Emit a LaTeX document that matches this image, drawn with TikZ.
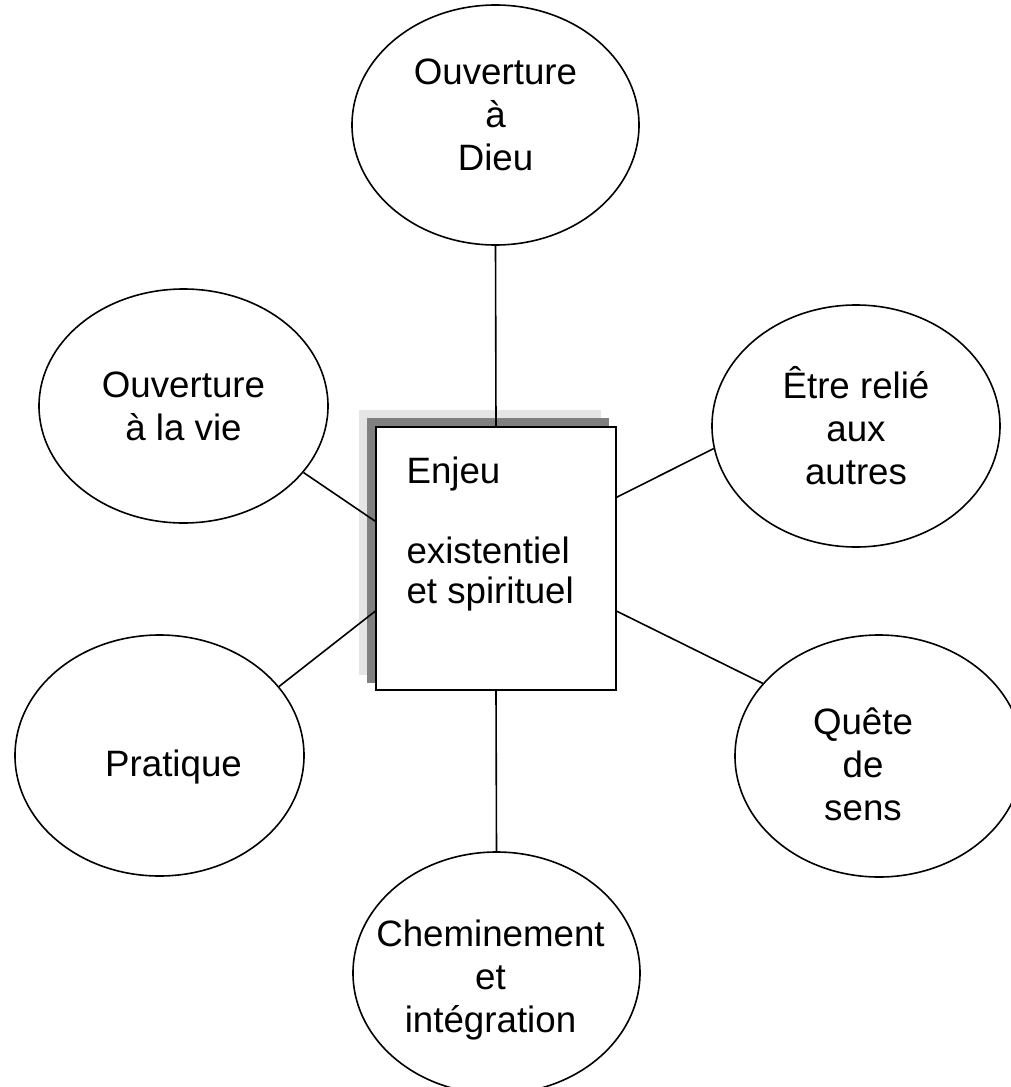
\documentclass[tikz,border=0pt]{standalone}
\usepackage{fontspec}
\setmainfont{Liberation Sans}
\usetikzlibrary{shapes.geometric,backgrounds}
\tikzset{
    theme-ellipse/.style = {draw=black, ellipse, line width=1.6pt, inner sep=0pt},
    theme-text/.style = {align=center, font=\fontsize{36.7}{43}\selectfont},
    center-box/.style = {draw=black, fill=white, rectangle, line width=1.6pt, minimum width=240pt, minimum height=263pt, inner sep=0pt},
    link/.style = {line width=1.6pt},
}

\begin{document}
\begin{tikzpicture}[x=1pt,y=-1pt]
\useasboundingbox (0,0) rectangle (1011,1087);

% central box with its two shadows
\node [center-box] (enjeu) at (496,558.5) {};
\node [theme-text, align=left, anchor=base west, font=\fontsize{36.7}{40}\selectfont] (enjeu-text) at (403,603) {Enjeu\\[40pt]existentiel\\et spirituel};
\begin{scope}[on background layer]
\fill [black!10] ([shift={(-16pt,16pt)}]enjeu.south west) rectangle ([shift={(-16pt,16pt)}]enjeu.north east);
\fill [black!50] ([shift={(-8pt,8pt)}]enjeu.south west) rectangle ([shift={(-8pt,8pt)}]enjeu.north east);
\end{scope}

% themes around
\node [theme-ellipse, minimum width=287pt, minimum height=240pt, label={[theme-text, yshift=10pt]center:Ouverture\\à\\Dieu}] (dieu) at (495.5,125) {};
\node [theme-ellipse, minimum width=289pt, minimum height=234pt, label={[theme-text]center:Ouverture\\à la vie}] (vie) at (183.5,406) {};
\node [theme-ellipse, minimum width=288pt, minimum height=242pt, label={[theme-text]center:Être relié\\aux\\autres}] (autres) at (856,426) {};
\node [theme-ellipse, minimum width=289pt, minimum height=241pt, label={[theme-text, xshift=14pt, yshift=-12pt]center:Pratique}] (pratique) at (159.5,755.5) {};
\node [theme-ellipse, minimum width=288pt, minimum height=242pt, label={[theme-text, xshift=-16pt, yshift=-8pt]center:Quête\\de\\sens}] (sens) at (879,756) {};
\node [theme-ellipse, minimum width=287pt, minimum height=242pt, label={[theme-text, xshift=-6pt, yshift=-7pt]center:Cheminement\\et\\intégration}] (chemin) at (496.5,973) {};

% links
\draw [link] (dieu.south) -- (enjeu.north);
\draw [link] (vie.-29.5) -- ([yshift=-95pt]enjeu.north west);
\draw [link] (autres.189.5) -- ([yshift=-71pt]enjeu.north east);
\draw [link] (pratique.30.9) -- ([yshift=-185pt]enjeu.north west);
\draw [link] (sens.148.8) -- ([yshift=-185pt]enjeu.north east);
\draw [link] (enjeu.south) -- (chemin.north);
\end{tikzpicture}
\end{document}
